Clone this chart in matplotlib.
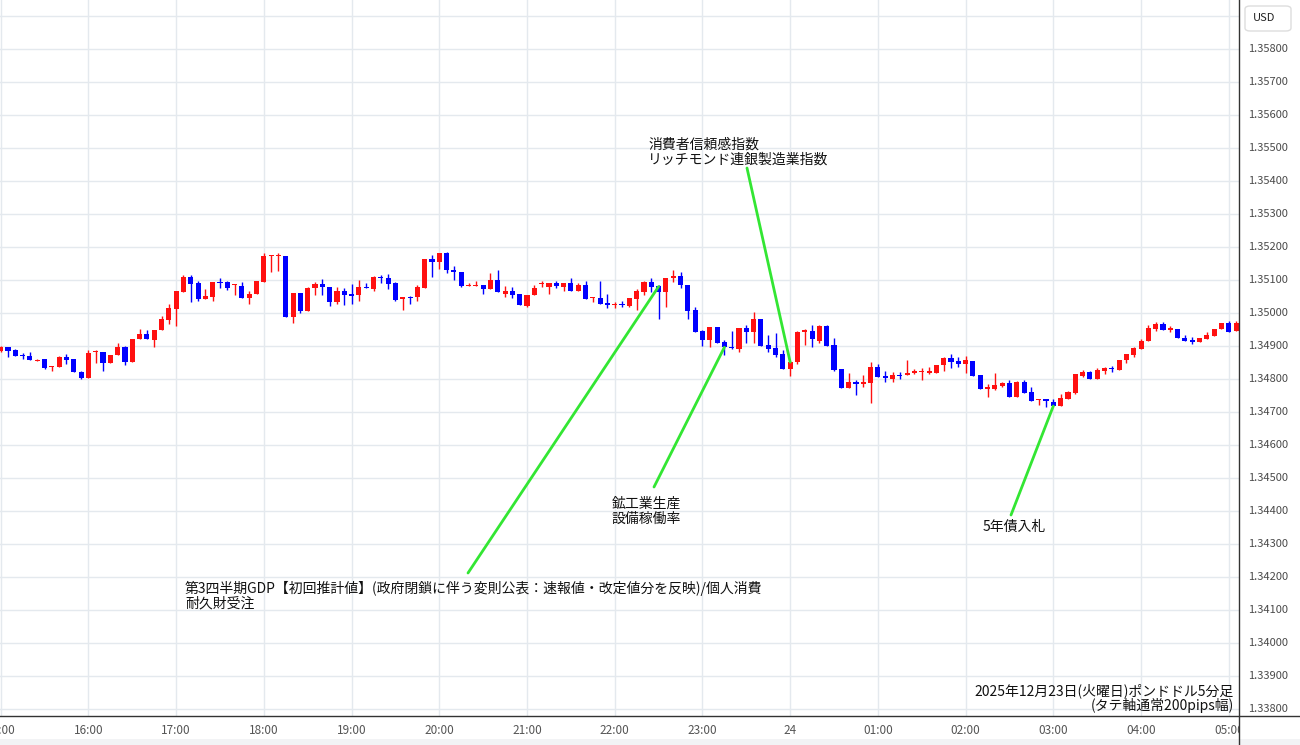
import numpy as np
import matplotlib
matplotlib.use("Agg")
import matplotlib.pyplot as plt
from matplotlib.patches import FancyBboxPatch, Rectangle
from matplotlib.lines import Line2D

plt.rcParams['font.family'] = ['Noto Sans CJK JP', 'DejaVu Sans']

# 5分足 OHLC (15:00 〜 05:05)
opens = [1.34886, 1.34899, 1.34889, 1.34874, 1.34871, 1.34856, 1.34862, 1.34839, 1.34838, 1.34868,
         1.34862, 1.34823, 1.34805, 1.34883, 1.34882, 1.34848, 1.34873, 1.34899, 1.34853, 1.34921,
         1.34936, 1.34919, 1.34949, 1.34980, 1.35014, 1.35066, 1.35109, 1.35091, 1.35044, 1.35048,
         1.35094, 1.35094, 1.35086, 1.35083, 1.35047, 1.35058, 1.35096, 1.35174, 1.35175, 1.35175,
         1.34990, 1.35061, 1.35008, 1.35076, 1.35090, 1.35081, 1.35034, 1.35068, 1.35056, 1.35054,
         1.35080, 1.35073, 1.35110, 1.35106, 1.35091, 1.35045, 1.35048, 1.35048, 1.35078, 1.35164,
         1.35154, 1.35184, 1.35131, 1.35125, 1.35084, 1.35084, 1.35086, 1.35074, 1.35101, 1.35057,
         1.35069, 1.35057, 1.35023, 1.35054, 1.35089, 1.35081, 1.35092, 1.35081, 1.35091, 1.35069,
         1.35087, 1.35047, 1.35045, 1.35032, 1.35025, 1.35027, 1.35022, 1.35043, 1.35066, 1.35094,
         1.35083, 1.35066, 1.35106, 1.35113, 1.35087, 1.35010, 1.34946, 1.34919, 1.34958, 1.34914,
         1.34898, 1.34891, 1.34956, 1.34944, 1.34982, 1.34904, 1.34894, 1.34877, 1.34832, 1.34851,
         1.34945, 1.34946, 1.34917, 1.34963, 1.34903, 1.34830, 1.34773, 1.34793, 1.34788, 1.34788,
         1.34836, 1.34808, 1.34802, 1.34814, 1.34812, 1.34822, 1.34822, 1.34821, 1.34820, 1.34843,
         1.34866, 1.34854, 1.34846, 1.34856, 1.34813, 1.34772, 1.34772, 1.34780, 1.34790, 1.34745,
         1.34793, 1.34763, 1.34737, 1.34739, 1.34732, 1.34719, 1.34740, 1.34760, 1.34810, 1.34823,
         1.34801, 1.34825, 1.34833, 1.34829, 1.34857, 1.34875, 1.34892, 1.34915, 1.34952, 1.34968,
         1.34951, 1.34952, 1.34925, 1.34917, 1.34912, 1.34922, 1.34932, 1.34952, 1.34970, 1.34945]
highs = [1.34901, 1.34899, 1.34893, 1.34881, 1.34882, 1.34861, 1.34862, 1.34840, 1.34871, 1.34876,
         1.34862, 1.34826, 1.34889, 1.34889, 1.34882, 1.34873, 1.34909, 1.34901, 1.34922, 1.34951,
         1.34949, 1.34950, 1.34992, 1.35028, 1.35069, 1.35116, 1.35116, 1.35097, 1.35073, 1.35094,
         1.35106, 1.35098, 1.35088, 1.35094, 1.35068, 1.35097, 1.35182, 1.35177, 1.35184, 1.35175,
         1.35061, 1.35061, 1.35079, 1.35096, 1.35103, 1.35081, 1.35081, 1.35076, 1.35089, 1.35101,
         1.35093, 1.35113, 1.35116, 1.35119, 1.35094, 1.35048, 1.35051, 1.35086, 1.35166, 1.35177,
         1.35182, 1.35186, 1.35143, 1.35125, 1.35093, 1.35099, 1.35086, 1.35121, 1.35131, 1.35084,
         1.35079, 1.35057, 1.35055, 1.35087, 1.35099, 1.35091, 1.35097, 1.35091, 1.35108, 1.35093,
         1.35099, 1.35050, 1.35097, 1.35057, 1.35035, 1.35038, 1.35045, 1.35074, 1.35099, 1.35106,
         1.35086, 1.35106, 1.35131, 1.35126, 1.35087, 1.35020, 1.34949, 1.34958, 1.34958, 1.34919,
         1.34945, 1.34955, 1.34965, 1.35005, 1.34982, 1.34934, 1.34941, 1.34889, 1.34854, 1.34946,
         1.34952, 1.34965, 1.34965, 1.34965, 1.34924, 1.34830, 1.34818, 1.34798, 1.34813, 1.34851,
         1.34845, 1.34825, 1.34821, 1.34823, 1.34859, 1.34830, 1.34833, 1.34838, 1.34844, 1.34869,
         1.34877, 1.34867, 1.34871, 1.34856, 1.34813, 1.34786, 1.34820, 1.34793, 1.34798, 1.34795,
         1.34798, 1.34776, 1.34739, 1.34739, 1.34739, 1.34756, 1.34765, 1.34816, 1.34828, 1.34826,
         1.34833, 1.34836, 1.34840, 1.34857, 1.34877, 1.34899, 1.34921, 1.34965, 1.34975, 1.34975,
         1.34961, 1.34952, 1.34935, 1.34927, 1.34925, 1.34942, 1.34951, 1.34972, 1.34978, 1.34978]
lows = [1.34884, 1.34868, 1.34872, 1.34861, 1.34857, 1.34855, 1.34832, 1.34824, 1.34838, 1.34845,
        1.34823, 1.34800, 1.34805, 1.34848, 1.34826, 1.34848, 1.34873, 1.34843, 1.34853, 1.34921,
        1.34921, 1.34897, 1.34949, 1.34968, 1.34962, 1.35066, 1.35034, 1.35038, 1.35044, 1.35038,
        1.35078, 1.35071, 1.35056, 1.35047, 1.35029, 1.35058, 1.35096, 1.35126, 1.35129, 1.34990,
        1.34970, 1.35000, 1.35008, 1.35055, 1.35054, 1.35022, 1.35028, 1.35025, 1.35027, 1.35038,
        1.35078, 1.35069, 1.35091, 1.35073, 1.35038, 1.35010, 1.35027, 1.35036, 1.35078, 1.35110,
        1.35133, 1.35121, 1.35100, 1.35081, 1.35084, 1.35082, 1.35057, 1.35074, 1.35065, 1.35049,
        1.35046, 1.35024, 1.35019, 1.35054, 1.35081, 1.35058, 1.35076, 1.35069, 1.35069, 1.35069,
        1.35042, 1.35034, 1.35028, 1.35017, 1.35017, 1.35018, 1.35018, 1.35010, 1.35056, 1.35066,
        1.34982, 1.35020, 1.35096, 1.35076, 1.34982, 1.34944, 1.34901, 1.34899, 1.34909, 1.34874,
        1.34893, 1.34884, 1.34911, 1.34911, 1.34901, 1.34884, 1.34869, 1.34832, 1.34810, 1.34847,
        1.34904, 1.34899, 1.34911, 1.34901, 1.34825, 1.34773, 1.34773, 1.34751, 1.34778, 1.34727,
        1.34806, 1.34793, 1.34793, 1.34800, 1.34812, 1.34816, 1.34798, 1.34816, 1.34820, 1.34826,
        1.34835, 1.34836, 1.34818, 1.34811, 1.34770, 1.34747, 1.34768, 1.34776, 1.34745, 1.34745,
        1.34760, 1.34733, 1.34721, 1.34717, 1.34719, 1.34719, 1.34740, 1.34755, 1.34806, 1.34801,
        1.34801, 1.34817, 1.34823, 1.34829, 1.34850, 1.34867, 1.34892, 1.34915, 1.34947, 1.34950,
        1.34942, 1.34925, 1.34915, 1.34907, 1.34912, 1.34922, 1.34932, 1.34952, 1.34944, 1.34945]
closes = [1.34899, 1.34887, 1.34872, 1.34871, 1.34857, 1.34858, 1.34835, 1.34840, 1.34869, 1.34858,
          1.34823, 1.34805, 1.34879, 1.34885, 1.34848, 1.34873, 1.34899, 1.34853, 1.34922, 1.34937,
          1.34921, 1.34950, 1.34984, 1.35015, 1.35068, 1.35109, 1.35089, 1.35042, 1.35052, 1.35094,
          1.35092, 1.35077, 1.35088, 1.35047, 1.35059, 1.35097, 1.35174, 1.35175, 1.35177, 1.34990,
          1.35061, 1.35008, 1.35076, 1.35090, 1.35079, 1.35035, 1.35068, 1.35054, 1.35055, 1.35079,
          1.35078, 1.35109, 1.35108, 1.35088, 1.35040, 1.35048, 1.35046, 1.35079, 1.35164, 1.35154,
          1.35182, 1.35130, 1.35124, 1.35083, 1.35086, 1.35086, 1.35074, 1.35101, 1.35065, 1.35069,
          1.35055, 1.35024, 1.35055, 1.35077, 1.35091, 1.35091, 1.35083, 1.35091, 1.35069, 1.35087,
          1.35042, 1.35050, 1.35028, 1.35024, 1.35027, 1.35025, 1.35045, 1.35069, 1.35094, 1.35081,
          1.35066, 1.35106, 1.35113, 1.35085, 1.35008, 1.34944, 1.34919, 1.34958, 1.34911, 1.34897,
          1.34896, 1.34955, 1.34944, 1.34982, 1.34901, 1.34892, 1.34874, 1.34832, 1.34852, 1.34944,
          1.34947, 1.34921, 1.34963, 1.34901, 1.34828, 1.34773, 1.34792, 1.34785, 1.34790, 1.34836,
          1.34806, 1.34806, 1.34812, 1.34811, 1.34820, 1.34823, 1.34824, 1.34823, 1.34842, 1.34866,
          1.34851, 1.34846, 1.34857, 1.34811, 1.34770, 1.34775, 1.34783, 1.34790, 1.34745, 1.34793,
          1.34760, 1.34733, 1.34739, 1.34736, 1.34719, 1.34742, 1.34763, 1.34816, 1.34823, 1.34801,
          1.34828, 1.34833, 1.34831, 1.34857, 1.34877, 1.34894, 1.34917, 1.34955, 1.34968, 1.34950,
          1.34953, 1.34925, 1.34915, 1.34915, 1.34925, 1.34934, 1.34951, 1.34970, 1.34944, 1.34972]

hour_labels = ['15:00', '16:00', '17:00', '18:00', '19:00', '20:00', '21:00', '22:00', '23:00',
               '24', '01:00', '02:00', '03:00', '04:00', '05:00']
price_ticks = [1.338, 1.339, 1.340, 1.341, 1.342, 1.343, 1.344, 1.345, 1.346, 1.347, 1.348,
               1.349, 1.350, 1.351, 1.352, 1.353, 1.354, 1.355, 1.356, 1.357, 1.358]

# 指標発表 (バー番号と線の先の価格)
event_texts = ['第3四半期GDP【初回推計値】(政府閉鎖に伴う変則公表：速報値・改定値分を反映)/個人消費\n耐久財受注',
               '鉱工業生産\n設備稼働率',
               '消費者信頼感指数\nリッチモンド連銀製造業指数',
               '5年債入札']
event_bar = [90, 99, 108, 144]
event_price = [1.35081, 1.34897, 1.34852, 1.34719]

title_lines = ['2025年12月23日(火曜日)ポンドドル5分足', '(タテ軸通常200pips幅)']

# レイアウト (ピクセル, 上が0)
W, H = 1300, 745
plot_right = 1239
plot_bottom = 716
bar_px = 87.72 / 12
price_px = 33000.0
line_end_px = [(468, 573), (654, 487), (747, 168), (1011, 515)]
text_pos_px = [(185, 581), (612, 497), (648, 138), (983, 520)]

fig = plt.figure(figsize=(W / 100, H / 100), dpi=100)
fig.patch.set_facecolor('white')

ax = fig.add_axes([0, (H - plot_bottom) / H, plot_right / W, plot_bottom / H])
x0 = -0.7 / bar_px
ax.set_xlim(x0, x0 + plot_right / bar_px)
ytop = 1.358 + 49.3 / price_px
ybot = ytop - plot_bottom / price_px
ax.set_ylim(ybot, ytop)

o = np.array(opens)
h = np.array(highs)
l = np.array(lows)
c = np.array(closes)
idx = np.arange(len(o))
colors = np.where(c >= o, '#ff1010', '#0000ff')

ax.vlines(idx, l, h, colors=colors, lw=1.0, zorder=3)
body_h = np.maximum(np.abs(c - o), 0.00004)
body_bottom = (o + c) / 2 - body_h / 2
ax.bar(idx, body_h, bottom=body_bottom, width=0.7, color=colors, linewidth=0, zorder=4)

ax.set_xticks(np.arange(0, len(hour_labels) * 12, 12))
ax.set_xticklabels(hour_labels)
ax.set_yticks(np.arange(1.338, 1.3595, 0.001))
ax.tick_params(axis='x', length=0, pad=6, labelsize=8.5, labelcolor='#555555')
ax.tick_params(axis='y', length=0, labelleft=False)
ax.grid(True, color='#e4e9ee', lw=1)
ax.set_axisbelow(True)
for s in ax.spines.values():
    s.set_visible(False)


def fig_px(x, y):
    return x, H - y


# 指標の線と文字
green = '#33e633'
for txt, b, p, (lx, ly), (tx, ty) in zip(event_texts, event_bar, event_price, line_end_px, text_pos_px):
    ax.annotate('', xy=(b, p), xycoords='data',
                xytext=fig_px(lx, ly), textcoords='figure pixels',
                arrowprops=dict(arrowstyle='-', color=green, lw=2, shrinkA=0, shrinkB=0),
                zorder=5)
    fig.text(tx / W, 1 - ty / H, txt, fontsize=10, color='#111111', ha='left', va='top',
             linespacing=1.05)

fig.text(1234 / W, 1 - 683 / H, '\n'.join(title_lines), fontsize=10, color='#111111',
         ha='right', va='top', linespacing=1.0)

# 右側の価格軸
axr = fig.add_axes([plot_right / W, 0, 1 - plot_right / W, 1])
axr.set_facecolor('white')
axr.set_xlim(0, 1)
axr.set_ylim(ybot - (H - plot_bottom) / price_px, ytop)
axr.set_xticks([])
axr.set_yticks([])
for s in axr.spines.values():
    s.set_visible(False)
for p in price_ticks:
    axr.text(0.47, p, f'{p:.5f}', fontsize=8, color='#4a4a4a', ha='center', va='center')

usd_box = FancyBboxPatch((1245 / W, 1 - 31 / H), 46 / W, 25 / H,
                         boxstyle='round,pad=0,rounding_size=0.004',
                         transform=fig.transFigure, facecolor='white', edgecolor='#dddddd', lw=1)
fig.patches.append(usd_box)
fig.text(1264 / W, 1 - 18 / H, 'USD', fontsize=8, color='#222222', ha='center', va='center')

fig.patches.append(Rectangle((0, 0), 1, 6 / H, transform=fig.transFigure,
                             facecolor='#f2f3f5', edgecolor='none', zorder=1))
fig.lines.append(Line2D([0, 1], [(H - plot_bottom) / H] * 2, transform=fig.transFigure,
                        color='#333333', lw=1))
fig.lines.append(Line2D([plot_right / W] * 2, [0, 1], transform=fig.transFigure,
                        color='#333333', lw=1))

fig.savefig('out.png', dpi=100)
